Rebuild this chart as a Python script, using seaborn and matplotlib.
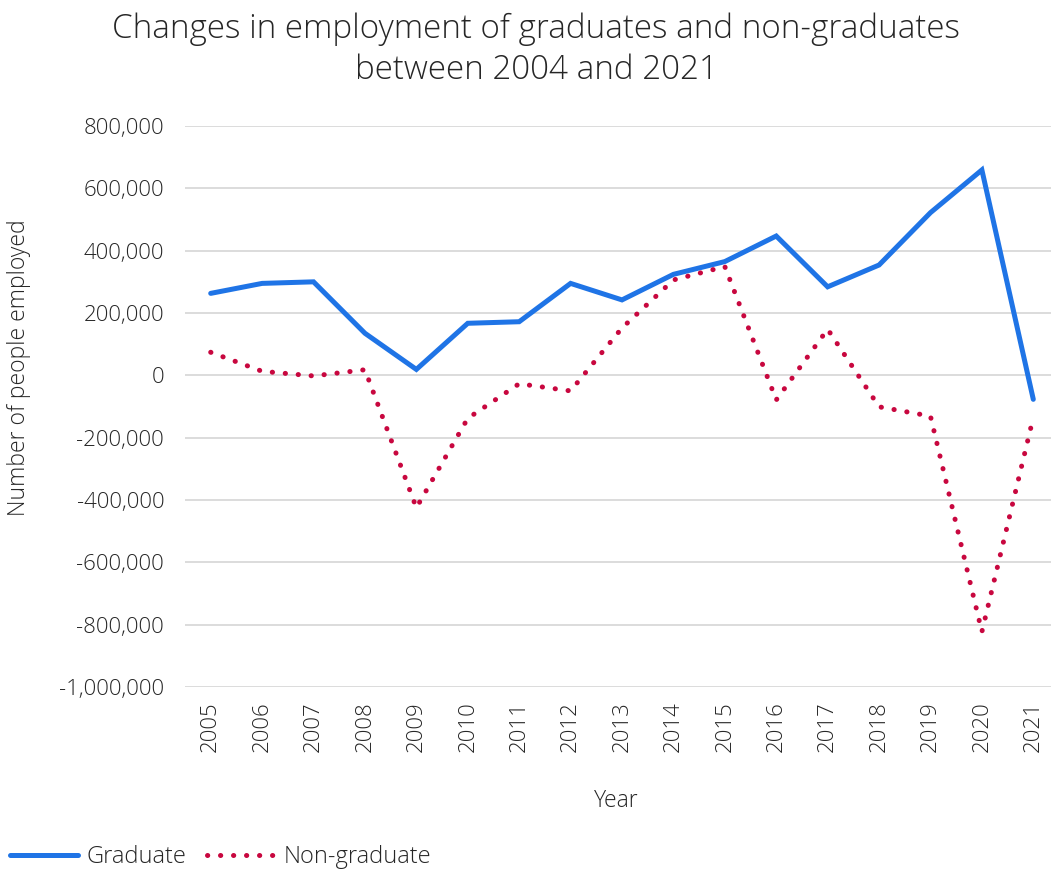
import matplotlib
matplotlib.use("Agg")
import matplotlib.pyplot as plt
import seaborn as sns
import pandas as pd
from matplotlib.ticker import FuncFormatter, MultipleLocator

years = list(range(2005, 2022))
graduate = [263000, 295000, 300000, 135000, 19000, 167000, 172000, 295000, 242000,
            324000, 365000, 447000, 284000, 354000, 522000, 659000, -77000]
non_graduate = [74000, 13000, -2000, 18000, -425000, -138000, -27000, -50000, 152000,
                306000, 349000, -79000, 148000, -101000, -131000, -823000, -135000]

title = "Changes in employment of graduates and non-graduates\nbetween 2004 and 2021"
y_label = "Number of people employed"
x_label = "Year"
series_names = ["Graduate", "Non-graduate"]

sns.set_theme(style="white")
plt.rcParams["font.family"] = ["Open Sans", "DejaVu Sans"]
plt.rcParams["font.weight"] = "light"
plt.rcParams["axes.labelweight"] = "light"

df = pd.DataFrame({"Year": years, "Graduate": graduate, "Non-graduate": non_graduate})

W, H = 1051, 871
fig = plt.figure(figsize=(W / 100, H / 100), dpi=100)
L, R, T, B = 185, 1059, 126, 687
ax = fig.add_axes([L / W, 1 - B / H, (R - L) / W, (B - T) / H])

blue = "#1F74E6"
red = "#C8073F"
txt = "#262626"

sns.lineplot(data=df, x="Year", y="Graduate", ax=ax, color=blue, linewidth=3.6,
             solid_capstyle="round", solid_joinstyle="miter", label=series_names[0])
sns.lineplot(data=df, x="Year", y="Non-graduate", ax=ax, color=red, linewidth=3.6,
             linestyle=(0, (0.05, 2.55)), dash_capstyle="round", label=series_names[1])

ax.set_xlim(years[0] - 0.5, years[-1] + 0.5)
ax.set_ylim(-1000000, 800000)
ax.yaxis.set_major_locator(MultipleLocator(200000))
ax.yaxis.set_major_formatter(FuncFormatter(lambda v, p: f"{int(v):,}"))
ax.set_xticks(years)
ax.set_xticklabels([str(y) for y in years], rotation=90)
ax.grid(axis="y", color="#D9D9D9", linewidth=1.3)
ax.set_axisbelow(True)
for s in ax.spines.values():
    s.set_visible(False)
ax.tick_params(axis="y", labelsize=16, colors=txt, length=0, pad=15)
ax.tick_params(axis="x", labelsize=16, colors=txt, length=0, pad=10)

ax.set_xlabel(x_label, fontsize=16.5, color=txt, fontweight="light")
ax.xaxis.set_label_coords((616 - L) / (R - L), (B - 789) / (B - T))
ax.set_ylabel(y_label, fontsize=16.5, color=txt, fontweight="light")
ax.yaxis.set_label_coords((31 - L) / (R - L), (B - 368) / (B - T))

fig.text(536 / W, 1 - 50 / H, title, ha="center", va="center", fontsize=23.9,
         color=txt, linespacing=1.3, fontweight="light")

ax.get_legend().remove()
handles, labels = ax.get_legend_handles_labels()
fig.legend(handles, labels, loc="center left", bbox_to_anchor=(10 / W, 1 - 857 / H), ncol=2,
           frameon=False, prop={"size": 17, "weight": "light"}, handlelength=2.9,
           handletextpad=0.35, columnspacing=0.85, borderpad=0, borderaxespad=0,
           labelcolor=txt)

fig.savefig("out.png", dpi=100)
